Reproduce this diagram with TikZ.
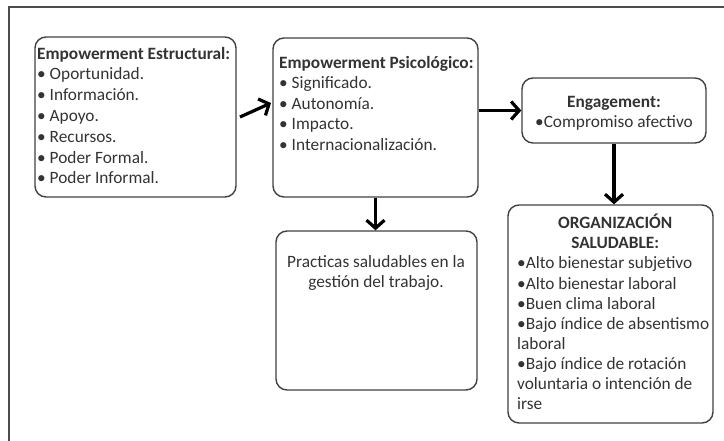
\documentclass[tikz,border=0pt]{standalone}
\usepackage{fontspec}
\setmainfont{Carlito}
\usetikzlibrary{arrows.meta}
\begin{document}
\begin{tikzpicture}[x=1pt,y=-1pt,
  box/.style={draw=black!75, line width=1.4pt, rounded corners=11pt, inner sep=0pt},
  txt/.style={inner sep=0pt, text=black!80},
  arr/.style={line width=3.2pt, -{Straight Barb[length=8pt,width=18pt]}}]
\useasboundingbox (0,0) rectangle (724,440);
\clip (0,0) rectangle (724,440);
\draw[black!70, line width=1.2pt] (9,460) -- (9,7) -- (740,7);
% boxes
\node[box, minimum width=201pt, minimum height=160pt] (b1) at (135.5,117) {};
\node[box, minimum width=205pt, minimum height=159pt] (b2) at (375.5,117.5) {};
\node[box, minimum width=184pt, minimum height=65pt] (b3) at (614,110.5) {};
\node[box, minimum width=205pt, minimum height=218pt] (b4) at (610.5,314) {};
\node[box, minimum width=201pt, minimum height=159pt] (b5) at (376.5,310.5) {};
% texts
\node[txt, anchor=north west, align=left, font=\fontsize{17.3}{20.8}\selectfont] (t1) at (37,44.4)
 {\textbf{Empowerment Estructural:}\strut\\ • Oportunidad.\\ • Información.\\ • Apoyo.\\ • Recursos.\\ • Poder Formal.\\ • Poder Informal.};
\node[txt, anchor=north west, align=left, font=\fontsize{17.3}{20.5}\selectfont] (t2) at (279,53.6)
 {\textbf{Empowerment Psicológico:}\strut\\ • Significado.\\ • Autonomía.\\ • Impacto.\\ • Internacionalización.};
\node[txt, anchor=north, align=center, font=\fontsize{17.3}{20}\selectfont] (t3) at (614,93)
 {\textbf{Engagement:}\strut\\ •Compromiso afectivo};
\node[txt, anchor=north west, text width=196pt, align=flush left, font=\fontsize{17.3}{20.1}\selectfont] (t4) at (517,214)
 {\makebox[\linewidth]{\bfseries ORGANIZACIÓN}\strut\\ \makebox[\linewidth]{\bfseries SALUDABLE:}\\ •Alto bienestar subjetivo\\ •Alto bienestar laboral\\ •Buen clima laboral\\ •Bajo índice de absentismo\\ laboral\\ •Bajo índice de rotación\\ voluntaria o intención de\\ irse};
\node[txt, anchor=north, align=center, font=\fontsize{17.3}{20}\selectfont] (t5) at (376,253)
 {Practicas saludables en la\strut\\ gestión del trabajo.};
% arrows
\coordinate (a1s) at (240,117);
\coordinate (a1e) at (271,103);
\draw[arr] (a1s) -- (a1e);
\draw[arr] (b2.east |- b3.west) -- (b3.west);
\draw[arr] (b3.south) -- (b3.south |- b4.north);
\draw[arr] (b2.south) -- (b2.south |- b5.north);
\end{tikzpicture}
\end{document}
